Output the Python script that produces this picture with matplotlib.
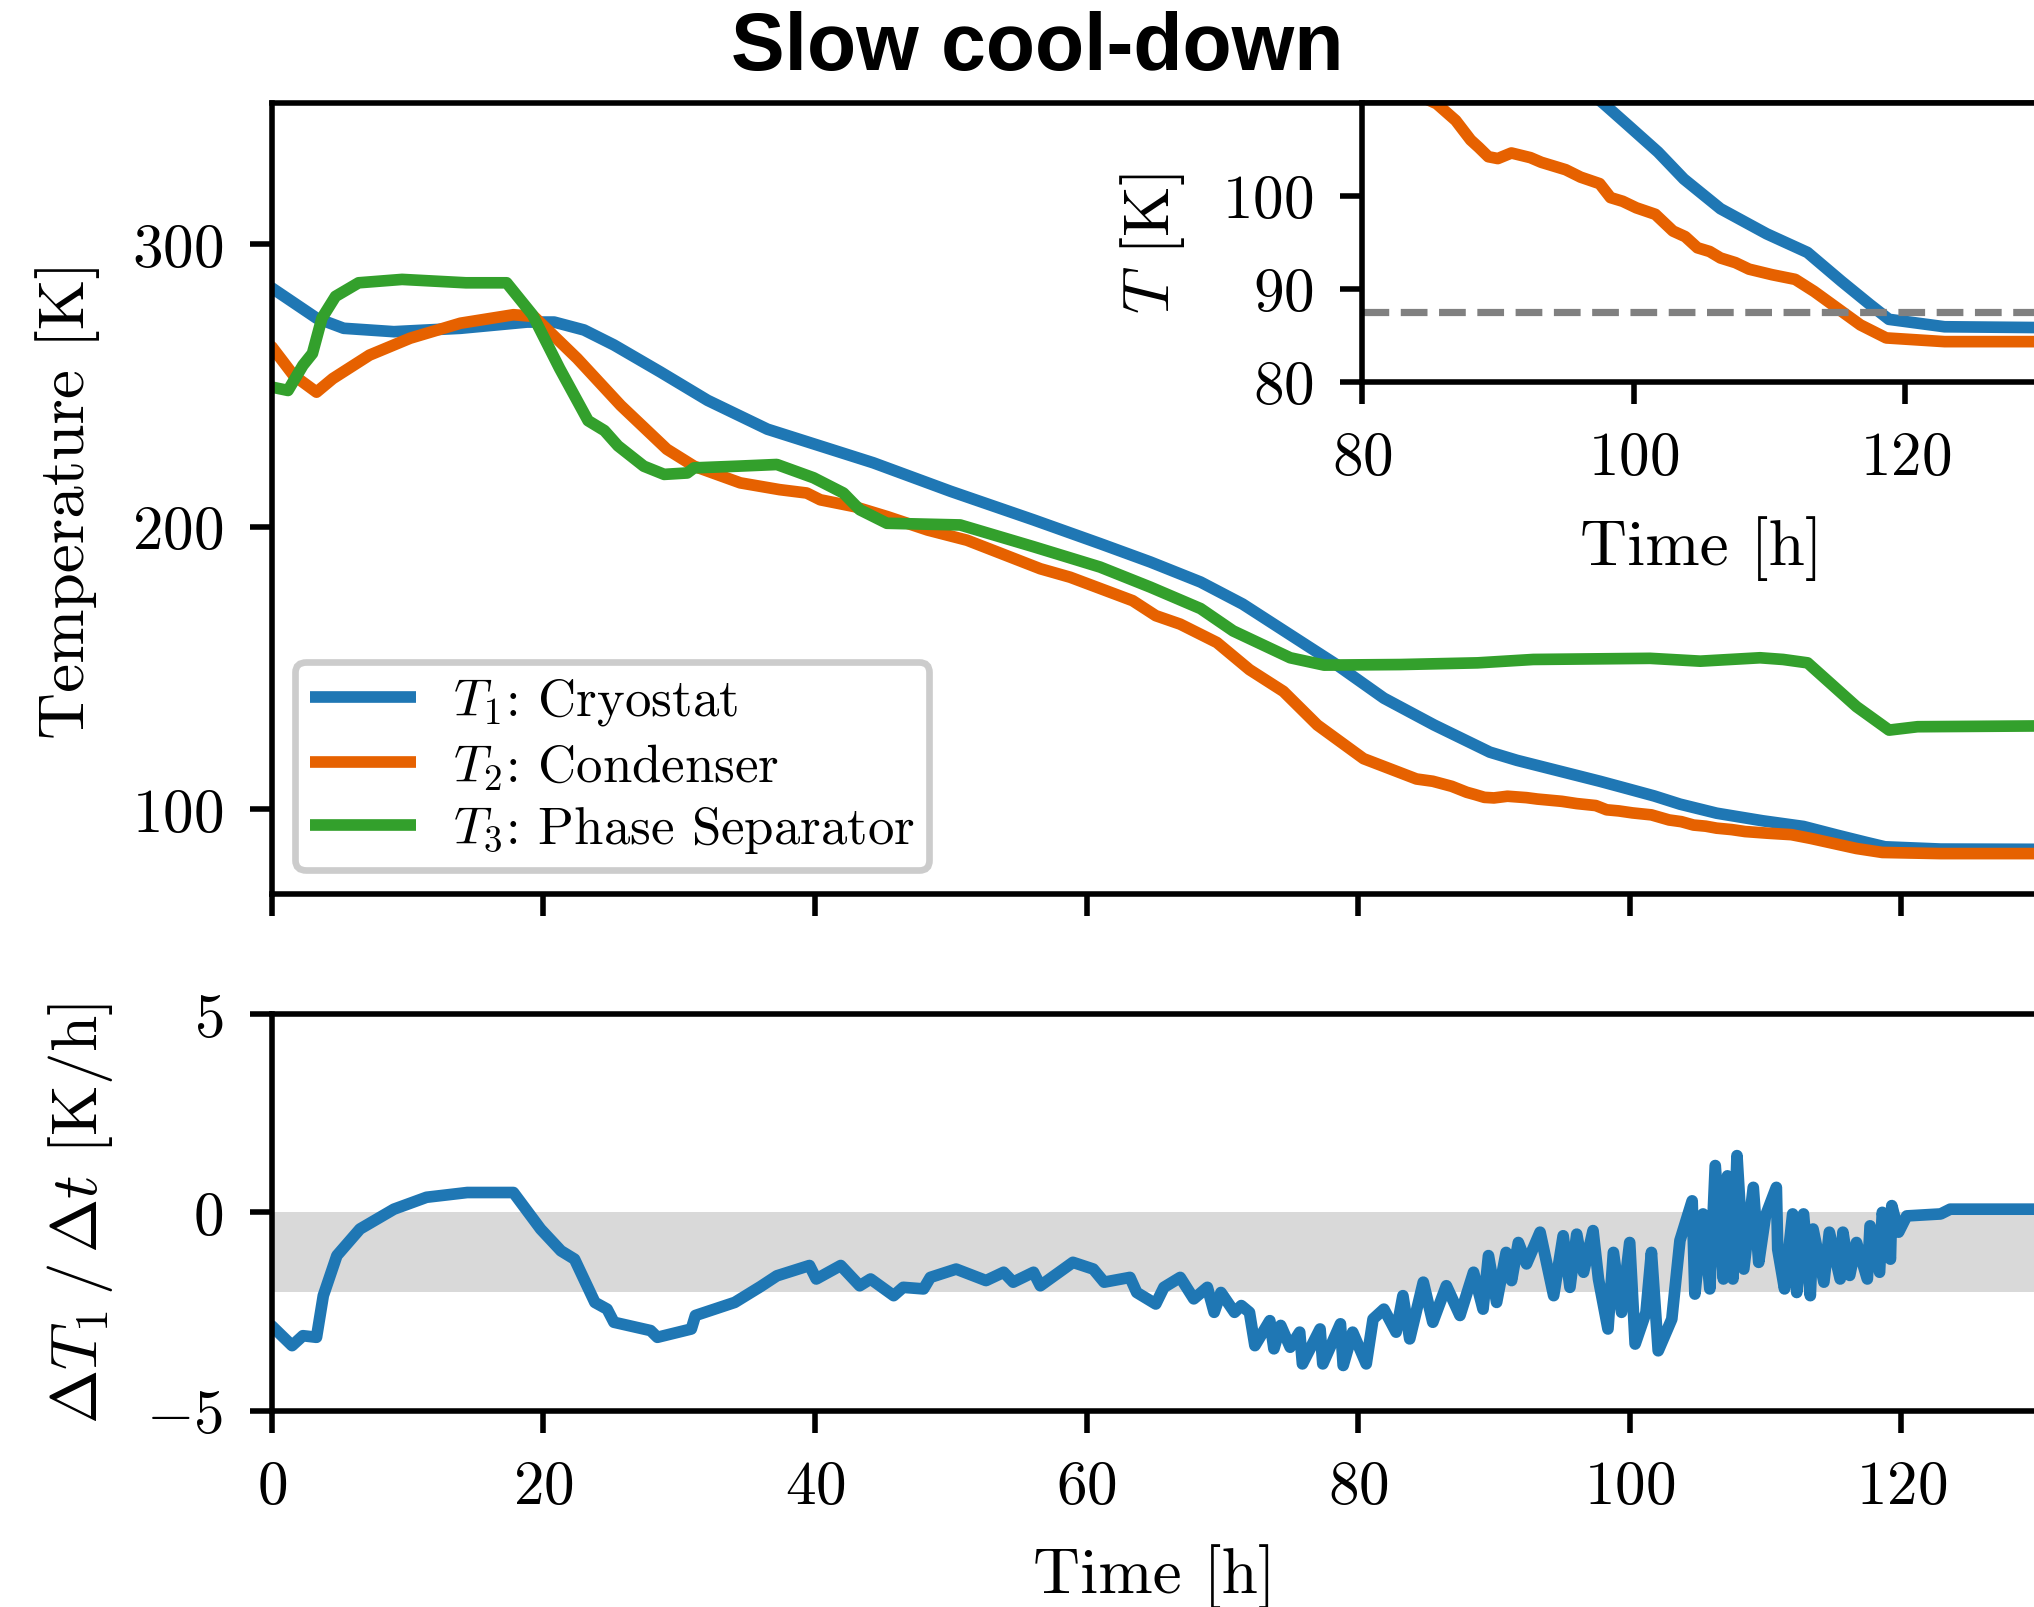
import matplotlib
matplotlib.use("Agg")
import matplotlib.pyplot as plt
import numpy as np

plt.rcParams['font.family'] = 'serif'
plt.rcParams['font.serif'] = ['cmr10', 'DejaVu Serif']
plt.rcParams['mathtext.fontset'] = 'cm'
plt.rcParams['axes.formatter.use_mathtext'] = True
plt.rcParams['axes.unicode_minus'] = True

# --- data ---
# T1: cryostat
t1_time = [0, 3.3, 5.3, 9.0, 13.9, 18.8, 20.8, 23.0, 25.2, 28.6, 32.1, 36.5, 44.3, 50.0,
           56.1, 61.0, 64.7, 68.4, 71.5, 78.4, 81.9, 85.6, 89.7, 91.7, 97.8, 99.5, 101.8,
           103.7, 106.4, 109.8, 112.8, 115.3, 117.4, 118.8, 122.9, 131]
t1_temp = [284.5, 273.8, 270.2, 269.0, 270.2, 272.4, 272.4, 269.6, 264.3, 254.8, 244.7, 234.5,
           222.6, 212.5, 202.4, 194.0, 187.5, 180.4, 172.6, 151.2, 139.3, 129.8, 120.2, 117.3,
           109.9, 107.7, 104.7, 101.8, 98.6, 95.9, 93.9, 90.8, 88.3, 86.7, 85.9, 85.8]

# T2: condenser
t2_time = [0, 1.6, 3.3, 4.5, 7.2, 10.2, 13.9, 17.8, 19.3, 22.5, 25.7, 29.1, 31.1, 34.5, 37.4,
           39.4, 40.4, 42.9, 45.3, 48.3, 51.2, 56.6, 58.8, 63.4, 65.1, 66.9, 69.6, 72.0, 74.5,
           77.0, 80.4, 84.3, 85.5, 86.9, 88.0, 88.6, 89.3, 90.0, 91.0, 92.4, 93.2, 94.1, 95.0,
           96.1, 97.5, 98.3, 99.2, 100.2, 101.6, 102.9, 103.8, 104.7, 105.6, 106.4, 107.5,
           108.5, 110.2, 111.9, 113.3, 115.0, 116.7, 118.6, 122.9, 131]
t2_temp = [263.7, 253.6, 247.6, 252.4, 260.7, 266.7, 272.0, 275.0, 274.4, 259.5, 242.9, 227.4,
           221.4, 215.5, 213.1, 211.9, 209.5, 207.1, 203.6, 198.8, 195.2, 185.1, 182.1, 173.8,
           168.5, 165.5, 159.0, 149.4, 141.7, 129.8, 117.9, 110.7, 109.9, 108.1, 106.0, 105.2,
           104.2, 104.0, 104.6, 104.1, 103.6, 103.2, 102.8, 102.0, 101.3, 99.8, 99.4, 98.7,
           98.0, 96.2, 95.6, 94.4, 94.0, 93.3, 92.8, 92.1, 91.5, 91.0, 89.7, 87.9, 86.1, 84.7,
           84.3, 84.3]

# T3: phase separator
t3_time = [0, 1.2, 2.3, 3.0, 3.7, 4.7, 6.4, 9.6, 14.3, 17.3, 19.2, 21.2, 23.3, 24.5, 25.5,
           27.4, 28.9, 30.6, 31.1, 34.3, 37.2, 39.9, 42.1, 43.3, 45.3, 50.7, 56.1, 61.0, 64.7,
           68.4, 70.8, 75.0, 77.5, 83.1, 88.8, 92.9, 101.5, 105.2, 109.6, 111.3, 113.1, 116.7,
           119.1, 121.2, 131]
t3_temp = [249.4, 248.2, 257.1, 261.3, 273.8, 281.5, 286.3, 287.5, 286.3, 286.3, 275.0, 256.0,
           237.5, 234.0, 228.6, 221.4, 218.5, 219.0, 220.8, 221.4, 222.0, 217.3, 211.9, 206.0,
           201.2, 200.6, 192.9, 185.7, 178.6, 171.0, 163.1, 153.6, 151.0, 151.2, 151.8, 153.0,
           153.4, 152.4, 153.6, 153.0, 151.8, 136.3, 128.0, 129.2, 129.5]

# cooling rate of T1 [K/h]
rate_time = [0.0, 1.5, 2.3, 3.3, 3.8, 4.8, 6.5, 9.0, 11.4, 14.4, 17.8, 19.8, 21.3, 22.3, 23.8,
             24.7, 25.2, 27.9, 28.4, 30.9, 31.2, 34.1, 36.0, 37.2, 39.6, 40.1, 41.9, 43.3,
             44.1, 45.8, 46.5, 48.0, 48.5, 50.4, 52.6, 53.9, 54.6, 56.1, 56.6, 59.0, 60.5,
             61.3, 63.2, 63.7, 65.1, 65.7, 66.9, 67.9, 68.9, 69.4, 69.9, 70.9, 71.4, 72.0,
             72.4, 73.5, 73.8, 74.3, 75.0, 75.7, 75.9, 77.2, 77.4, 78.7, 78.9, 79.6, 80.6,
             81.1, 81.9, 82.8, 83.3, 83.8, 84.8, 85.5, 86.5, 87.5, 88.5, 89.2, 89.6, 90.2,
             90.9, 91.3, 91.8, 92.4, 93.4, 94.4, 95.1, 95.6, 96.1, 96.6, 97.3, 97.7, 98.4,
             98.8, 99.4, 100.0, 100.4, 101.2, 101.6, 102.1, 103.1, 103.7, 104.6, 104.8, 105.4,
             105.9, 106.3, 106.9, 107.2, 107.6, 107.9, 108.4, 109.1, 109.5, 110.0, 110.8,
             110.9, 111.4, 112.0, 112.3, 112.8, 113.3, 113.5, 114.3, 114.7, 115.5, 115.7,
             116.2, 116.7, 117.5, 117.7, 118.4, 118.6, 119.2, 119.3, 119.8, 120.4, 122.9,
             123.6, 125.3, 131.0]
rate_val = [-2.86, -3.36, -3.11, -3.15, -2.10, -1.09, -0.42, 0.08, 0.38, 0.50, 0.50, -0.42,
            -0.97, -1.18, -2.27, -2.44, -2.77, -2.98, -3.15, -2.94, -2.60, -2.27, -1.87, -1.60,
            -1.34, -1.68, -1.34, -1.85, -1.68, -2.10, -1.89, -1.93, -1.64, -1.43, -1.72, -1.51,
            -1.76, -1.51, -1.85, -1.26, -1.43, -1.76, -1.64, -2.02, -2.31, -1.89, -1.64, -2.18,
            -1.89, -2.52, -2.02, -2.52, -2.35, -2.52, -3.36, -2.73, -3.44, -2.85, -3.40, -3.02,
            -3.82, -2.94, -3.82, -2.81, -3.86, -3.02, -3.82, -2.69, -2.44, -3.02, -2.10, -3.19,
            -1.76, -2.77, -1.85, -2.60, -1.51, -2.44, -1.09, -2.27, -1.01, -1.72, -0.76, -1.30,
            -0.50, -2.10, -0.59, -1.89, -0.55, -1.51, -0.46, -1.68, -2.94, -1.01, -2.52, -0.76,
            -3.32, -2.52, -1.01, -3.49, -2.69, -0.71, 0.29, -2.06, -0.04, -1.93, 1.18, -1.68,
            0.92, -1.68, 1.43, -1.43, 0.63, -1.26, -0.09, 0.63, -0.93, -1.93, -0.04, -2.02,
            -0.04, -2.10, -0.42, -1.76, -0.50, -1.68, -0.50, -1.59, -0.76, -1.68, -0.34, -1.51,
            0.00, -1.18, 0.17, -0.50, -0.09, -0.04, 0.08, 0.08, 0.08]

labels = [r'$T_1$: Cryostat', r'$T_2$: Condenser', r'$T_3$: Phase Separator']
colors = ['#1f77b4', '#e66100', '#33a02c']
argon_line = 87.5
band_lo, band_hi = -2, 0

W, H = 2034, 1608
fig = plt.figure(figsize=(W / 200, H / 200), dpi=200)

# axes placed in pixels, the right spine sits just past the edge
px = 13.58          # pixels per hour
x0 = 271.7
ax_w = 130 * px / W
ax = fig.add_axes([x0 / W, 1 - 895 / H, ax_w, (895 - 103.8) / H])
ax2 = fig.add_axes([x0 / W, 1 - 1411.7 / H, ax_w, (1411.7 - 1015) / H])
axin = fig.add_axes([1362 / W, 1 - 382.6 / H, 50 * px / W, (382.6 - 103.8) / H])

lw = 4.2
series = [(t1_time, t1_temp), (t2_time, t2_temp), (t3_time, t3_temp)]
for (tt, TT), c, lab in zip(series, colors, labels):
    ax.plot(tt, TT, color=c, lw=lw, label=lab, solid_capstyle='round')
    axin.plot(tt, TT, color=c, lw=lw, solid_capstyle='round')

ax.set_xlim(0, 130)
ax.set_ylim(70, 350)
ax.set_yticks([100, 200, 300])
ax.set_xticks(np.arange(0, 121, 20))
ax.tick_params(labelbottom=False)
ax.set_ylabel('Temperature [K]', fontsize=23.5)
ax.yaxis.set_label_coords(-0.097, 0.5)
leg = ax.legend(loc='lower left', fontsize=19, frameon=True, fancybox=True,
                edgecolor='0.8', framealpha=1.0, handlelength=2.0, labelspacing=0.25,
                borderpad=0.28, borderaxespad=0.45, handletextpad=0.7)
leg.get_frame().set_linewidth(2.4)
for h in leg.get_lines():
    h.set_linewidth(lw)
    h.set_solid_capstyle('butt')

axin.axhline(argon_line, color='grey', ls='--', lw=2.6)
axin.set_xlim(80, 130)
axin.set_ylim(80, 110)
axin.set_xticks([80, 100, 120])
axin.set_yticks([80, 90, 100])
axin.set_xlabel('Time [h]', fontsize=23.5)
axin.set_ylabel(r'$T$ [K]', fontsize=23.5)
axin.xaxis.set_label_coords(0.5, -0.478)
axin.yaxis.set_label_coords(-0.258, 0.5)
axin.set_zorder(5)
axin.set_facecolor('white')

ax2.axhspan(band_lo, band_hi, color='#d9d9d9', lw=0, zorder=0)
ax2.plot(rate_time, rate_val, color=colors[0], lw=lw, solid_capstyle='round')
ax2.set_xlim(0, 130)
ax2.set_ylim(-5, 5)
ax2.set_yticks([-5, 0, 5])
ax2.set_xticks(np.arange(0, 121, 20))
ax2.set_xlabel('Time [h]', fontsize=23.5)
ax2.set_ylabel(r'$\Delta T_1\,/\,\Delta t$ [K/h]', fontsize=23.5)
ax2.xaxis.set_label_coords(0.5, -0.333)
ax2.yaxis.set_label_coords(-0.089, 0.5)

for a in (ax, ax2, axin):
    for s in a.spines.values():
        s.set_linewidth(2.0)
    a.tick_params(direction='out', length=8, width=2.0, labelsize=22, pad=9.5)

fig.text(0.51, 0.9695, 'Slow cool-down', ha='center', va='center',
         fontsize=29, fontweight='bold', family=['Liberation Sans', 'DejaVu Sans'])

fig.savefig('out.png', dpi=200)
